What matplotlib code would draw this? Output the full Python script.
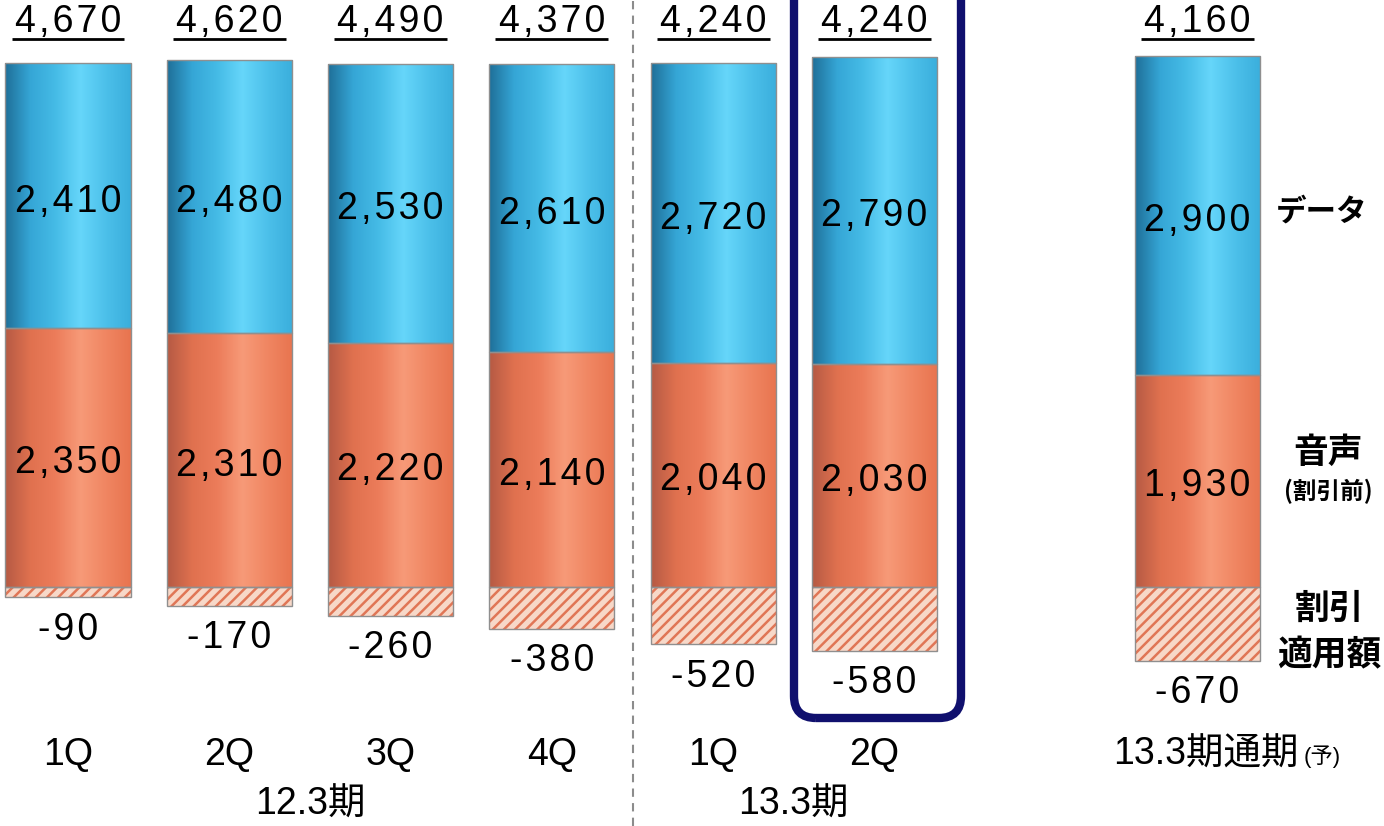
#!/usr/bin/env python3
import numpy as np
import matplotlib
matplotlib.use('Agg')
import matplotlib.pyplot as plt
from matplotlib.colors import LinearSegmentedColormap
from matplotlib.patches import FancyBboxPatch

plt.rcParams['font.family'] = ['Liberation Sans', 'Noto Sans CJK JP', 'DejaVu Sans']
plt.rcParams['hatch.linewidth'] = 1.8

# data (units as shown on the slide)
quarters = ['1Q', '2Q', '3Q', '4Q', '1Q', '2Q']
slots = [0, 1, 2, 3, 4, 5, 7]
data_rev = [2410, 2480, 2530, 2610, 2720, 2790, 2900]
voice_rev = [2350, 2310, 2220, 2140, 2040, 2030, 1930]
discount = [-90, -170, -260, -380, -520, -580, -670]
totals = [4670, 4620, 4490, 4370, 4240, 4240, 4160]
groups = ['12.3期', '13.3期']

# pixel -> data helpers for the layout
PX = 0.11      # px per unit
Y0 = 587       # zero line, px from top
XS = 161.3     # px per slot
def yd(py):
    return (Y0 - py) / PX
def xd(px):
    return (px - 68) / XS
def spaced(s):
    return '\u200a'.join(s)

fig = plt.figure(figsize=(13.84, 8.26), dpi=100)
ax = fig.add_axes([0, 0, 1, 1])
ax.set_xlim(xd(0), xd(1384))
ax.set_ylim(yd(826), yd(0))
ax.axis('off')

w = 0.775
blue = LinearSegmentedColormap.from_list('blue', ['#1f6f98', '#35a6d6', '#45bbe6', '#66d6fa', '#4cc0ea', '#3aaedc'])
orange = LinearSegmentedColormap.from_list('orange', ['#b55a44', '#e0714f', '#ec7c5a', '#f79a78', '#f08662', '#e8744f'])
grad = np.linspace(0, 1, 256)[None, :]

def shade(container, cmap):
    for p in container.patches:
        x0, y0 = p.get_x(), p.get_y()
        im = ax.imshow(grad, cmap=cmap, aspect='auto', zorder=2,
                       extent=[x0, x0 + p.get_width(), y0, y0 + p.get_height()])
        im.set_clip_path(p)

vbars = ax.bar(slots, voice_rev, w, facecolor='none', edgecolor='#8f8f8f', lw=1, zorder=3)
dbars = ax.bar(slots, data_rev, w, bottom=voice_rev, facecolor='none', edgecolor='#8f8f8f', lw=1, zorder=3)
shade(vbars, orange)
shade(dbars, blue)
ax.bar(slots, discount, w, facecolor='#f7d8c8', edgecolor='#e07656', hatch='///', lw=0, zorder=2)
ax.bar(slots, discount, w, fill=False, edgecolor='#8f8f8f', lw=1, zorder=3)

fs = 27
# segment labels, a touch below the middle of each segment
for s, v, d in zip(slots, voice_rev, data_rev):
    ax.annotate(spaced(f'{v:,}'), (s, v / 2), xytext=(0, -4), textcoords='offset points',
                ha='center', va='center', fontsize=fs, zorder=4)
    ax.annotate(spaced(f'{d:,}'), (s, v + d / 2), xytext=(0, -4), textcoords='offset points',
                ha='center', va='center', fontsize=fs, zorder=4)
for s, d in zip(slots, discount):
    ax.annotate(spaced(f'{d}'), (s, d), xytext=(0, -23.5), textcoords='offset points',
                ha='center', va='center', fontsize=fs)

for s, t in zip(slots, totals):
    ax.text(s, yd(22), spaced(f'{t:,}'), ha='center', va='center', fontsize=fs)
    ax.hlines(yd(39), s - 0.35, s + 0.35, color='black', lw=2)

# category labels
for s, q in zip(slots[:6], quarters):
    ax.text(s, yd(755), q, ha='center', va='center', fontsize=27)
ax.text(xd(1299), yd(755), '13.3期通期', ha='right', va='center', fontsize=27)
ax.text(xd(1304), yd(757), '(予)', ha='left', va='center', fontsize=16)
ax.text(1.5, yd(805), groups[0], ha='center', va='center', fontsize=27)
ax.text(4.5, yd(805), groups[1], ha='center', va='center', fontsize=27)

# divider and highlight box
ax.axvline(3.5, color='#8c8c8c', ls=(0, (4, 3)), lw=1.5, zorder=1)
r = 22 / XS
box = FancyBboxPatch((xd(794), yd(718)), (965 - 794 - 4) / XS, yd(-40) - yd(718),
                     boxstyle=f'round,pad=0,rounding_size={r}',
                     mutation_aspect=(1 / PX) / (1 / XS),
                     fill=False, edgecolor='#10106e', lw=6, zorder=5)
ax.add_patch(box)

# series names on the right
cjk = ['Noto Sans CJK JP', 'DejaVu Sans']
ax.text(xd(1322), yd(212), 'データ', ha='center', va='center', fontsize=22, fontweight='bold', family=cjk)
ax.text(xd(1328), yd(452), '音声', ha='center', va='center', fontsize=25, fontweight='bold', family=cjk)
ax.text(xd(1328), yd(491), '(割引前)', ha='center', va='center', fontsize=17, fontweight='bold', family=cjk)
ax.text(xd(1329), yd(608), '割引', ha='center', va='center', fontsize=25, fontweight='bold', family=cjk)
ax.text(xd(1329), yd(655), '適用額', ha='center', va='center', fontsize=25, fontweight='bold', family=cjk)

plt.savefig('out.png', dpi=100)
